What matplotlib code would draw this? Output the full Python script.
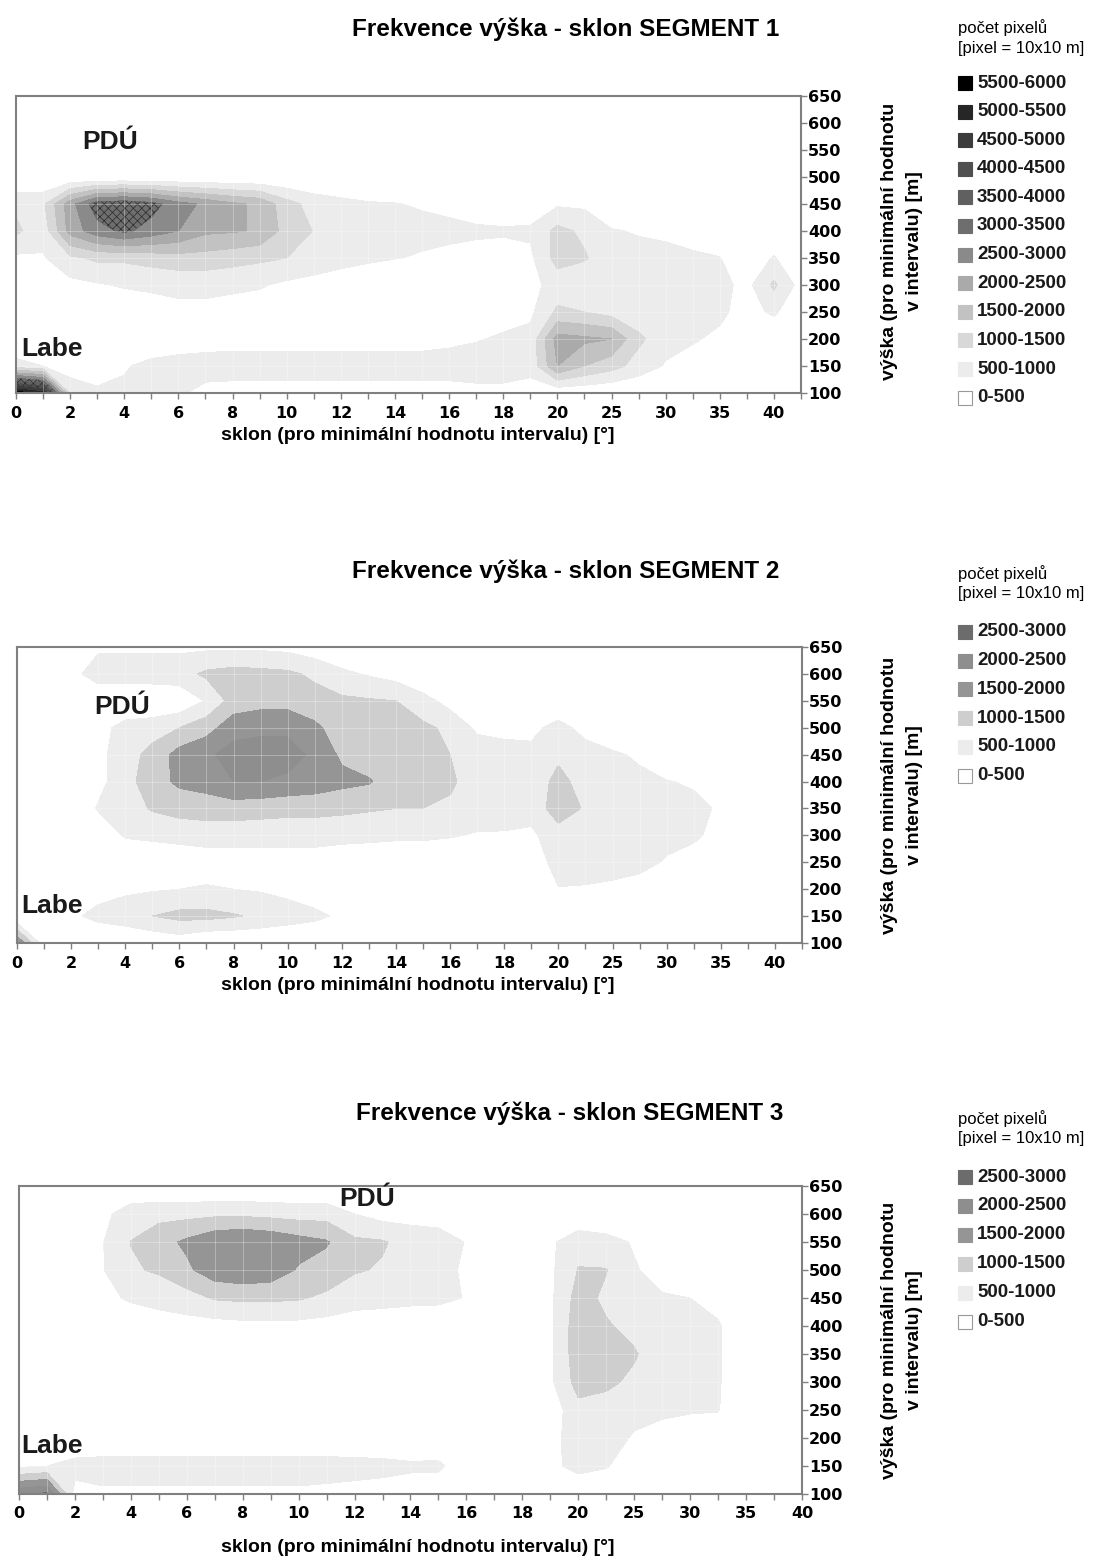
import numpy as np
import matplotlib
matplotlib.use('Agg')
import matplotlib.pyplot as plt
from matplotlib.patches import Rectangle

plt.rcParams['font.family'] = ['Liberation Sans', 'DejaVu Sans']
plt.rcParams['hatch.linewidth'] = 0.5
plt.rcParams['hatch.color'] = '#2a2a2a'

# heights (rows) and slope categories (columns)
heights = [100, 150, 200, 250, 300, 350, 400, 450, 500, 550, 600, 650]
slopes_12 = list(range(21)) + [22.5, 25, 27.5, 30, 32.5, 35, 37.5, 40, 42.5]
slopes_3 = list(range(21)) + [22.5, 25, 27.5, 30, 32.5, 35, 37.5, 40]
tick_labels = ['0', '2', '4', '6', '8', '10', '12', '14', '16', '18', '20',
               '25', '30', '35', '40']

# pixel counts, one list per slope category, values for heights 100..650
seg1 = [
    [5800, 700, 0, 0, 100, 400, 1100, 900, 0, 0, 0, 0],
    [5200, 500, 0, 0, 150, 450, 700, 900, 0, 0, 0, 0],
    [900, 200, 0, 0, 350, 900, 2200, 2300, 0, 0, 0, 0],
    [550, 350, 0, 100, 450, 1100, 2800, 3300, 0, 0, 0, 0],
    [600, 450, 0, 150, 550, 1100, 3100, 3400, 0, 0, 0, 0],
    [650, 650, 100, 250, 600, 1200, 2800, 3200, 0, 0, 0, 0],
    [600, 750, 150, 350, 650, 1300, 2500, 2700, 0, 0, 0, 0],
    [300, 800, 200, 350, 650, 1300, 2100, 2400, 0, 0, 0, 0],
    [250, 800, 250, 300, 600, 1200, 2050, 2100, 0, 0, 0, 0],
    [250, 800, 250, 250, 550, 1100, 1950, 1900, 0, 0, 0, 0],
    [250, 800, 250, 200, 400, 1000, 1300, 1200, 0, 0, 0, 0],
    [250, 800, 250, 100, 300, 850, 980, 800, 0, 0, 0, 0],
    [250, 800, 250, 0, 200, 700, 850, 650, 0, 0, 0, 0],
    [250, 800, 250, 0, 100, 600, 780, 550, 0, 0, 0, 0],
    [250, 800, 250, 0, 50, 520, 700, 520, 0, 0, 0, 0],
    [250, 800, 250, 0, 0, 450, 650, 450, 0, 0, 0, 0],
    [250, 800, 350, 0, 0, 380, 620, 380, 0, 0, 0, 0],
    [300, 850, 450, 0, 0, 330, 580, 250, 0, 0, 0, 0],
    [300, 850, 600, 200, 100, 300, 560, 200, 0, 0, 0, 0],
    [300, 650, 650, 400, 350, 400, 580, 200, 0, 0, 0, 0],
    [100, 2000, 2200, 1100, 700, 1200, 1150, 430, 0, 0, 0, 0],
    [100, 1500, 2100, 1000, 650, 1050, 900, 400, 0, 0, 0, 0],
    [50, 1200, 2000, 800, 700, 700, 550, 0, 0, 0, 0, 0],
    [0, 800, 1100, 700, 700, 700, 450, 0, 0, 0, 0, 0],
    [0, 450, 700, 700, 700, 650, 400, 0, 0, 0, 0, 0],
    [0, 300, 550, 650, 700, 600, 250, 0, 0, 0, 0, 0],
    [0, 100, 400, 600, 650, 520, 100, 0, 0, 0, 0, 0],
    [0, 0, 0, 300, 350, 100, 0, 0, 0, 0, 0, 0],
    [0, 0, 0, 600, 1100, 550, 0, 0, 0, 0, 0, 0],
    [0, 0, 0, 0, 300, 0, 0, 0, 0, 0, 0, 0],
]

seg2 = [
    [2000, 0, 0, 0, 0, 0, 0, 0, 0, 0, 0, 0],
    [200, 0, 0, 0, 0, 0, 0, 0, 0, 0, 0, 0],
    [0, 400, 100, 0, 0, 0, 0, 0, 0, 0, 300, 100],
    [0, 650, 300, 0, 100, 550, 350, 350, 300, 0, 800, 400],
    [0, 800, 400, 100, 550, 750, 800, 800, 700, 0, 800, 400],
    [100, 1000, 450, 150, 600, 1050, 1300, 1150, 800, 0, 800, 400],
    [200, 1150, 500, 200, 650, 1200, 1600, 1700, 1000, 100, 800, 400],
    [0, 1150, 550, 250, 700, 1250, 1700, 1900, 1300, 550, 1100, 400],
    [0, 1050, 500, 250, 700, 1250, 2000, 2200, 1800, 1200, 1200, 400],
    [0, 900, 450, 250, 700, 1200, 2000, 2200, 1900, 1300, 1150, 400],
    [0, 750, 350, 250, 700, 1150, 1900, 2200, 1900, 1300, 1100, 350],
    [0, 620, 200, 250, 700, 1150, 1800, 1900, 1600, 1200, 900, 200],
    [0, 400, 0, 100, 700, 1100, 1650, 1400, 1250, 1100, 600, 100],
    [0, 0, 0, 100, 650, 1050, 1550, 1200, 1100, 1050, 450, 0],
    [0, 0, 0, 100, 600, 1000, 1200, 1100, 1050, 1000, 300, 0],
    [0, 0, 0, 100, 600, 1000, 1150, 1150, 1100, 700, 0, 0],
    [0, 0, 0, 0, 550, 950, 1050, 1000, 900, 300, 0, 0],
    [0, 0, 0, 0, 450, 800, 850, 800, 400, 0, 0, 0],
    [0, 0, 0, 0, 450, 750, 750, 700, 350, 0, 0, 0],
    [0, 0, 0, 200, 400, 700, 700, 650, 350, 0, 0, 0],
    [0, 0, 480, 700, 800, 1250, 1150, 900, 700, 0, 0, 0],
    [0, 0, 450, 750, 800, 950, 800, 750, 300, 0, 0, 0],
    [0, 0, 400, 700, 750, 750, 700, 600, 0, 0, 0, 0],
    [0, 0, 300, 650, 700, 700, 650, 400, 0, 0, 0, 0],
    [0, 0, 100, 450, 650, 650, 520, 100, 0, 0, 0, 0],
    [0, 0, 0, 250, 600, 600, 450, 0, 0, 0, 0, 0],
    [0, 0, 0, 0, 300, 450, 0, 0, 0, 0, 0, 0],
    [0, 0, 0, 0, 0, 0, 0, 0, 0, 0, 0, 0],
    [0, 0, 0, 0, 0, 0, 0, 0, 0, 0, 0, 0],
    [0, 0, 0, 0, 0, 0, 0, 0, 0, 0, 0, 0],
]

seg3 = [
    [2400, 400, 0, 0, 0, 0, 0, 0, 0, 0, 0, 0],
    [2600, 500, 0, 0, 0, 0, 0, 0, 0, 0, 0, 0],
    [300, 700, 0, 0, 0, 0, 0, 0, 0, 0, 0, 0],
    [400, 750, 0, 0, 0, 0, 0, 300, 480, 480, 350, 0],
    [400, 750, 0, 0, 0, 0, 0, 600, 950, 1010, 800, 0],
    [400, 750, 0, 0, 0, 0, 150, 750, 1050, 1300, 850, 0],
    [400, 750, 0, 0, 0, 0, 300, 800, 1400, 1600, 850, 0],
    [400, 750, 0, 0, 0, 0, 300, 1050, 1800, 1900, 900, 0],
    [400, 750, 0, 0, 0, 0, 350, 1100, 1900, 2000, 900, 0],
    [400, 750, 0, 0, 0, 0, 350, 1100, 1800, 1900, 850, 0],
    [400, 750, 0, 0, 0, 0, 350, 1050, 1450, 1700, 800, 0],
    [350, 750, 0, 0, 0, 0, 300, 900, 1300, 1550, 800, 0],
    [300, 720, 0, 0, 0, 0, 250, 700, 1050, 1100, 500, 0],
    [250, 680, 0, 0, 0, 0, 250, 650, 950, 1050, 300, 0],
    [200, 600, 0, 0, 0, 0, 250, 600, 800, 800, 300, 0],
    [100, 620, 0, 0, 0, 0, 200, 600, 650, 700, 300, 0],
    [0, 100, 0, 0, 0, 0, 200, 480, 430, 480, 0, 0],
    [0, 0, 0, 0, 0, 0, 0, 0, 0, 0, 0, 0],
    [0, 0, 0, 0, 0, 0, 0, 0, 0, 0, 0, 0],
    [0, 350, 300, 200, 400, 400, 400, 400, 400, 400, 0, 0],
    [0, 700, 800, 850, 1200, 1300, 1300, 1200, 1020, 850, 0, 0],
    [0, 550, 700, 800, 1100, 1250, 1050, 900, 1020, 700, 0, 0],
    [0, 100, 450, 650, 900, 1050, 850, 750, 550, 450, 0, 0],
    [0, 0, 300, 600, 700, 700, 700, 550, 300, 0, 0, 0],
    [0, 0, 200, 550, 650, 650, 650, 500, 0, 0, 0, 0],
    [0, 0, 100, 530, 560, 560, 560, 300, 0, 0, 0, 0],
    [0, 0, 0, 0, 0, 0, 0, 0, 0, 0, 0, 0],
    [0, 0, 0, 0, 0, 0, 0, 0, 0, 0, 0, 0],
    [0, 0, 0, 0, 0, 0, 0, 0, 0, 0, 0, 0],
]

bins_1 = ['0-500', '500-1000', '1000-1500', '1500-2000', '2000-2500', '2500-3000',
          '3000-3500', '3500-4000', '4000-4500', '4500-5000', '5000-5500', '5500-6000']
colors_1 = ['#ffffff', '#ececec', '#d8d8d8', '#c2c2c2', '#aaaaaa', '#8a8a8a',
            '#6e6e6e', '#606060', '#505050', '#3c3c3c', '#262626', '#000000']
hatches_1 = [None, None, None, None, None, None, 'xxxx', 'xxxx', 'xxxx', None, 'xxxx', None]
bins_23 = bins_1[:6]
colors_23 = ['#ffffff', '#ececec', '#cecece', '#959595', '#8e8e8e', '#6c6c6c']
hatches_23 = [None] * 6

W, H = 1100, 1562
fig = plt.figure(figsize=(W / 100, H / 100), dpi=100)
fig.patch.set_facecolor('white')


def fx(px):
    return px / W


def fy(py):
    return 1 - py / H


def draw(counts, slopes, bins, colors, hatches, box, title, title_xy,
         xlabel_xy, ylabel_xy, legend_y, legend_step, pdu_xy, labe_xy):
    x0, y0, x1, y1 = box
    ax = fig.add_axes([fx(x0), fy(y1), fx(x1 - x0), (y1 - y0) / H])
    n = len(slopes)
    z = np.array(counts).T
    levels = [-1] + [500 * (k + 1) for k in range(len(bins))]
    ax.contourf(np.arange(n), heights, z, levels=levels, colors=colors,
                hatches=hatches)
    ax.set_xlim(0, n - 1)
    ax.set_ylim(100, 650)
    ax.set_xticks(np.arange(0, n, 2)[:len(tick_labels)])
    ax.set_xticklabels(tick_labels)
    ax.set_xticks(np.arange(n), minor=True)
    ax.set_yticks(heights)
    ax.yaxis.tick_right()
    for s in ax.spines.values():
        s.set_color('#808080')
        s.set_linewidth(1.5)
    ax.tick_params(axis='x', which='both', direction='out', length=4, width=1,
                   color='#808080', pad=5)
    ax.tick_params(axis='y', direction='out', length=4, width=1,
                   color='#808080', pad=1)
    for lab in ax.get_xticklabels() + ax.get_yticklabels():
        lab.set_fontfamily('DejaVu Sans')
        lab.set_fontweight('bold')
        lab.set_fontsize(11.5)
    # faint white grid lines like the original's triangulation
    for i in range(n):
        ax.axvline(i, color='white', lw=0.6, alpha=0.35)
    for h in heights:
        ax.axhline(h, color='white', lw=0.6, alpha=0.35)

    fig.text(fx(title_xy[0]), fy(title_xy[1]), title, ha='center', va='center',
             fontsize=17.5, fontweight='bold')
    fig.text(fx(xlabel_xy[0]), fy(xlabel_xy[1]),
             'sklon (pro minimální hodnotu intervalu) [°]', ha='center',
             va='center', fontsize=14, fontweight='bold')
    fig.text(fx(ylabel_xy[0]), fy(ylabel_xy[1]),
             'výška (pro minimální hodnotu\nv intervalu) [m]', rotation=90,
             ha='center', va='center', multialignment='center', fontsize=14,
             fontweight='bold', linespacing=1.55)
    fig.text(fx(pdu_xy[0]), fy(pdu_xy[1]), 'PDÚ', ha='center', va='center',
             fontsize=19, fontweight='bold', color='#1a1a1a')
    fig.text(fx(labe_xy[0]), fy(labe_xy[1]), 'Labe', ha='center', va='center',
             fontsize=19, fontweight='bold', color='#1a1a1a')

    # legend
    lx = 958
    fig.text(fx(lx), fy(legend_y[0]), 'počet pixelů', va='center', fontsize=12)
    fig.text(fx(lx), fy(legend_y[1]), '[pixel = 10x10 m]', va='center', fontsize=12)
    for k in range(len(bins)):
        idx = len(bins) - 1 - k
        yc = legend_y[2] + k * legend_step
        fig.add_artist(Rectangle((fx(lx), fy(yc + 7)), 14 / W, 14 / H,
                                 transform=fig.transFigure,
                                 facecolor=colors[idx],
                                 edgecolor='#999999' if idx == 0 else colors[idx],
                                 hatch=hatches[idx], lw=0.8))
        fig.text(fx(lx + 19), fy(yc), bins[idx], va='center', fontsize=13.5,
                 fontweight='bold', color='#1a1a1a')


draw(seg1, slopes_12, bins_1, colors_1, hatches_1, (16, 96, 801, 393),
     'Frekvence výška - sklon SEGMENT 1', (566, 29), (418, 435), (902, 241),
     (28, 48, 83), 28.6, (110, 142), (52, 349))
draw(seg2, slopes_12, bins_23, colors_23, hatches_23, (17, 647, 802, 943),
     'Frekvence výška - sklon SEGMENT 2', (566, 571), (418, 985), (902, 795),
     (574, 594, 632), 28.7, (122, 707), (52, 906))
draw(seg3, slopes_3, bins_23, colors_23, hatches_23, (19, 1186, 802, 1494),
     'Frekvence výška - sklon SEGMENT 3', (570, 1113), (418, 1548), (902, 1340),
     (1119, 1139, 1177), 28.9, (367, 1199), (52, 1446))

fig.savefig('out.png', dpi=100, facecolor='white')
